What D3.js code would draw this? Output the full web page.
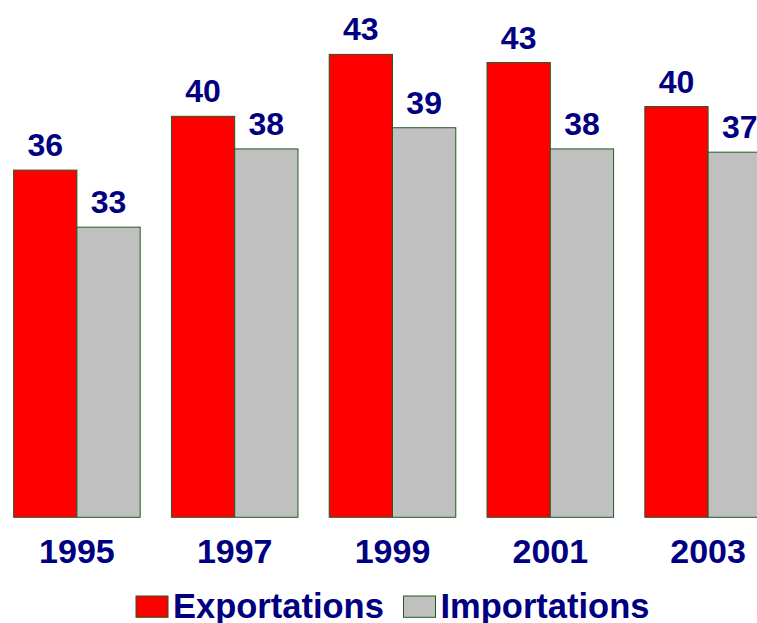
<!DOCTYPE html>
<html lang="en">
<head>
    <meta charset="UTF-8">
    <script src="https://d3js.org/d3.v7.min.js"></script>
    <title>Exportations / Importations</title>
    <style>
        body { margin: 0; background: #fff; }
        text { font-family: "Liberation Sans", Arial, sans-serif; font-weight: bold; fill: #000080; }
    </style>
</head>
<body>
<svg width="757" height="623" id="chart"></svg>
<script>
    // Data (labels are the rounded values)
    const years = ["1995", "1997", "1999", "2001", "2003"];
    const seriesNames = ["Exportations", "Importations"];
    const exportations = [36.3, 39.6, 43.4, 42.9, 40.2];
    const importations = [32.8, 37.6, 38.9, 37.6, 37.4];
    const colors = ["#ff0000", "#c0c0c0"];

    const svg = d3.select("#chart");
    const baseY = 517.3;

    // group positions, the last group runs off the right edge
    const x0 = d3.scaleBand()
        .domain(years)
        .range([-2, 787])
        .paddingInner(0.198)
        .paddingOuter(0.099);

    const x1 = d3.scaleBand()
        .domain(seriesNames)
        .range([0, x0.bandwidth()]);

    // value axis does not start at zero
    const y = d3.scaleLinear()
        .domain([15, 45])
        .range([baseY, baseY - 30 * 16.3]);

    const rows = years.map((yr, i) => ({
        year: yr,
        values: [
            { name: seriesNames[0], v: exportations[i], c: colors[0] },
            { name: seriesNames[1], v: importations[i], c: colors[1] }
        ]
    }));

    const groups = svg.selectAll("g.year")
        .data(rows)
        .enter()
        .append("g")
        .attr("class", "year")
        .attr("transform", d => "translate(" + x0(d.year) + ",0)");

    groups.selectAll("rect")
        .data(d => d.values)
        .enter()
        .append("rect")
        .attr("x", d => x1(d.name))
        .attr("y", d => y(d.v))
        .attr("width", x1.bandwidth())
        .attr("height", d => baseY - y(d.v))
        .style("fill", d => d.c)
        .style("stroke", "#235a23")
        .style("stroke-width", 1);

    // value labels above bars
    groups.selectAll("text.val")
        .data(d => d.values)
        .enter()
        .append("text")
        .attr("class", "val")
        .attr("x", d => x1(d.name) + x1.bandwidth() / 2)
        .attr("y", d => y(d.v) - 14)
        .attr("text-anchor", "middle")
        .style("font-size", "32px")
        .text(d => d3.format(".0f")(d.v));

    // year labels
    const xAxis = d3.axisBottom(x0).tickSize(0).tickPadding(0);
    const axisG = svg.append("g")
        .attr("transform", "translate(0," + 562.7 + ")")
        .call(xAxis);
    axisG.select(".domain").remove();
    axisG.selectAll("text")
        .attr("dy", 0)
        .attr("y", 0)
        .attr("fill", null)
        .style("font-size", "34px")
        .style("font-family", "'Liberation Sans', Arial, sans-serif");

    // legend
    const legendX = [136, 403.5];
    const legend = svg.selectAll("g.legend")
        .data(seriesNames)
        .enter()
        .append("g")
        .attr("class", "legend")
        .attr("transform", (d, i) => "translate(" + legendX[i] + ",596)");

    legend.append("rect")
        .attr("width", 32)
        .attr("height", 21.3)
        .style("fill", (d, i) => colors[i])
        .style("stroke", "#235a23")
        .style("stroke-width", 1);

    legend.append("text")
        .attr("x", 37)
        .attr("y", 22.3)
        .style("font-size", "34.5px")
        .text(d => d);
</script>
</body>
</html>
